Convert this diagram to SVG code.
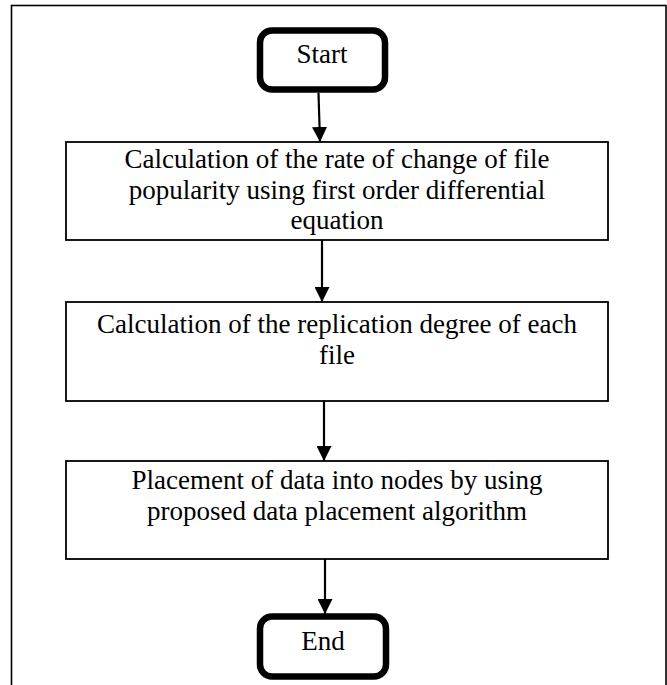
<svg xmlns="http://www.w3.org/2000/svg" width="667" height="685" viewBox="0 0 667 685">
  <style>
    .frame { fill: none; stroke: #000; stroke-width: 1.6; }
    .term { fill: #fff; stroke: #000; stroke-width: 6.5; }
    .proc { fill: #fff; stroke: #000; stroke-width: 1.8; }
    .lbl { font-family: "Liberation Serif", "Times New Roman", serif; font-size: 27px; fill: #000; text-anchor: middle; }
    .conn { stroke: #000; stroke-width: 2.2; fill: none; }
  </style>
  <defs>
    <marker id="arrow" markerUnits="userSpaceOnUse" markerWidth="15" markerHeight="15" refX="15" refY="7.5" orient="auto">
      <path d="M0,0 L15,7.5 L0,15 Z" fill="#000"/>
    </marker>
  </defs>

  <rect width="667" height="685" fill="#fff"/>
  <!-- outer frame, open at the bottom edge -->
  <rect class="frame" x="11.5" y="5.5" width="654.5" height="690"/>

  <g id="connectors">
    <line class="conn" x1="318.5" y1="93" x2="320" y2="142" marker-end="url(#arrow)"/>
    <line class="conn" x1="322" y1="240" x2="322" y2="302" marker-end="url(#arrow)"/>
    <line class="conn" x1="324" y1="401" x2="324" y2="461" marker-end="url(#arrow)"/>
    <line class="conn" x1="325" y1="559" x2="325" y2="614" marker-end="url(#arrow)"/>
  </g>

  <g id="start">
    <rect class="term" x="260" y="30.5" width="125" height="59" rx="12"/>
    <text class="lbl" x="322" y="63">Start</text>
  </g>

  <g id="popularity">
    <rect class="proc" x="66" y="142" width="542" height="98"/>
    <text class="lbl" x="337" y="168">Calculation of the rate of change of file</text>
    <text class="lbl" x="337" y="199">popularity using first order differential</text>
    <text class="lbl" x="337" y="229">equation</text>
  </g>

  <g id="replication">
    <rect class="proc" x="66" y="302" width="542" height="99"/>
    <text class="lbl" x="337" y="333">Calculation of the replication degree of each</text>
    <text class="lbl" x="337" y="364">file</text>
  </g>

  <g id="placement">
    <rect class="proc" x="66" y="461" width="542" height="98"/>
    <text class="lbl" x="337" y="488.5">Placement of data into nodes by using</text>
    <text class="lbl" x="337" y="519.5">proposed data placement algorithm</text>
  </g>

  <g id="end">
    <rect class="term" x="260" y="616.5" width="126" height="60" rx="12"/>
    <text class="lbl" x="323" y="650">End</text>
  </g>
</svg>
